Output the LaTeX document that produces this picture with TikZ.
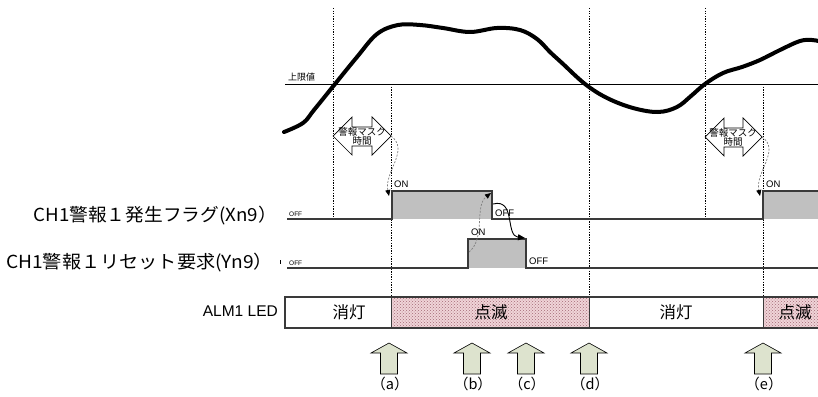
\documentclass[tikz,border=0pt]{standalone}
\usepackage{fontspec}
\setmainfont{Liberation Sans}
\newfontfamily\jp{Noto Sans CJK JP}
\usetikzlibrary{patterns,arrows.meta}
\definecolor{sig}{HTML}{3A3A3A}
\definecolor{sigfill}{HTML}{C0C0C0}
\definecolor{pinkbg}{HTML}{F0D4D8}
\definecolor{pinkdot}{HTML}{A46A76}
\definecolor{arrfill}{HTML}{DDE3CE}
\tikzset{
  vdot/.style={line width=0.9pt, dash pattern=on 1.3pt off 1.3pt, black},
  sigline/.style={line width=1.5pt, sig},
  siglabel/.style={font=\jp\fontsize{18}{19}\selectfont, anchor=east, inner sep=0pt},
  tiny/.style={font=\fontsize{6.5}{7}\selectfont, inner sep=0pt, anchor=south west},
  onoff/.style={font=\fontsize{9.5}{10}\selectfont, inner sep=0pt, anchor=west},
  ledtext/.style={font=\jp\fontsize{16.5}{17}\selectfont, inner sep=0pt},
  masktext/.style={font=\jp\fontsize{9.5}{10}\selectfont, inner sep=0pt, align=center},
  evlabel/.style={font=\jp\fontsize{14.5}{15}\selectfont, inner sep=0pt},
  grayarr/.style={gray, line width=0.7pt, dash pattern=on 2pt off 1.5pt, -{Triangle[length=6pt,width=5pt,black]}},
  blackarr/.style={black, line width=0.9pt, -{Triangle[length=7pt,width=6pt]}},
  blockarr/.style={draw=black, line width=0.6pt, fill=arrfill},
  maskarr/.style={draw=black, line width=0.7pt, fill=white},
}
\begin{document}
\begin{tikzpicture}[x=1pt,y=-1pt]
\useasboundingbox (0,0) rectangle (818,396);

% threshold
\draw[line width=1pt] (285,84) -- (818,84);
\node[font=\jp\fontsize{9}{10}\selectfont, inner sep=0pt, anchor=south west] (thr) at (288,81) {上限値};

% dotted verticals
\draw[vdot] (333,8) -- (333,220);
\draw[vdot] (391,84) -- (391,327);
\draw[vdot] (589,8) -- (589,327);
\draw[vdot] (705,8) -- (705,220);
\draw[vdot] (763,84) -- (763,327);

% measured curve
\draw[line width=4pt, line cap=round, line join=round] plot[smooth, tension=0.6] coordinates {
 (284,132) (303,123) (314,110) (335,84) (357,57) (377,34) (398,25) (420,25) (443,28) (470,32)
 (497,28) (520,30) (537,39) (550,52) (562,63) (585,84) (607,98) (633,108) (658,112) (677,107)
 (691,96) (705,84) (723,73) (742,67) (760,60) (780,50) (800,41) (812,40) (818,41)};

% mask arrows
\draw[maskarr] (333,136) -- (352,117) -- (352,127) -- (372,127) -- (372,117) -- (391,136)
   -- (372,155) -- (372,146) -- (352,146) -- (352,155) -- cycle;
\node[masktext] (mask1) at (362,136) {警報マスク\\[-1pt]時間};
\draw[maskarr] (705,137) -- (724,118) -- (724,128) -- (743,128) -- (743,118) -- (762,137)
   -- (743,156) -- (743,147) -- (724,147) -- (724,156) -- cycle;
\node[masktext] (mask2) at (733,137) {警報マスク\\[-1pt]時間};
\coordinate (m1r) at (391,136);
\coordinate (m2r) at (762,137);

% signal Xn9
\fill[sigfill] (392,191) rectangle (492,219);
\fill[sigfill] (763,191) rectangle (818,219);
\draw[sigline] (287,219) -- (392,219) -- (392,191) -- (492,191) -- (492,219) -- (763,219) -- (763,191) -- (818,191);
% signal Yn9
\fill[sigfill] (468,239) rectangle (526,268);
\draw[sigline] (287,268) -- (468,268) -- (468,239) -- (526,239) -- (526,268) -- (818,268);

\coordinate (xr1) at (389,196);
\coordinate (xf) at (491,193);
\coordinate (xfs) at (493,204);
\coordinate (yr) at (469,252);
\coordinate (yf) at (525,238);
\coordinate (xr2) at (760,196);

% labels
\node[siglabel] (lx) at (277,216) {\scalebox{1.04}[1]{CH1警報１発生フラグ(Xn9）}};
\node[siglabel] (ly) at (273,263) {\scalebox{1.065}[1]{CH1警報１リセット要求(Yn9）}};
\draw[line width=0.8pt] (280,260) -- (280,264);
\node[tiny] (off1) at (289,217) {OFF};
\node[tiny] (off2) at (289,266) {OFF};
\node[onoff] (on1) at (394,184) {ON};
\node[onoff] (of1) at (495,213) {OFF};
\node[onoff] (on2) at (471,232) {ON};
\node[onoff] (of2) at (529,261) {OFF};
\node[onoff] (on3) at (766,184) {ON};

% connectors
\draw[grayarr] (m1r) .. controls (410,150) and (384,172) .. (xr1);
\draw[grayarr] (yr) .. controls (486,238) and (474,206) .. (xf);
\draw[blackarr] (xfs) .. controls (516,198) and (505,236) .. (yf);
\draw[grayarr] (m2r) .. controls (781,150) and (755,172) .. (xr2);

% LED row
\node[font=\fontsize{15.5}{16}\selectfont, inner sep=0pt, anchor=east] (alm) at (278,311) {ALM1 LED};
\fill[pinkbg] (391,297) rectangle (589,328);
\fill[pinkbg] (763,297) rectangle (818,328);
\fill[pattern=crosshatch dots, pattern color=pinkdot] (391,297) rectangle (589,328);
\fill[pattern=crosshatch dots, pattern color=pinkdot] (763,297) rectangle (818,328);
\draw[line width=1.2pt, sig] (818,297) -- (285,297) -- (285,328) -- (818,328);
\draw[line width=1pt, sig] (589,297) -- (589,328);
\draw[line width=1pt, sig] (763,297) -- (763,328);
\draw[line width=1pt, sig] (391,297) -- (391,328);
\node[ledtext] (led1) at (349,312) {消灯};
\node[ledtext] (led2) at (491,312) {点滅};
\node[ledtext] (led3) at (676,312) {消灯};
\node[ledtext] (led4) at (795,312) {点滅};

% event arrows
\foreach \x/\t/\n in {389/a/ea, 472/b/eb, 526/c/ec, 589/d/ed, 763/e/ee} {
  \draw[blockarr] (\x-8.5,374) -- (\x-8.5,353) -- (\x-18,353) -- (\x,343) -- (\x+18,353) -- (\x+8.5,353) -- (\x+8.5,374) -- cycle;
  \node[evlabel] (\n) at (\x+1,384) {（\t）};
}
\end{tikzpicture}
\end{document}
